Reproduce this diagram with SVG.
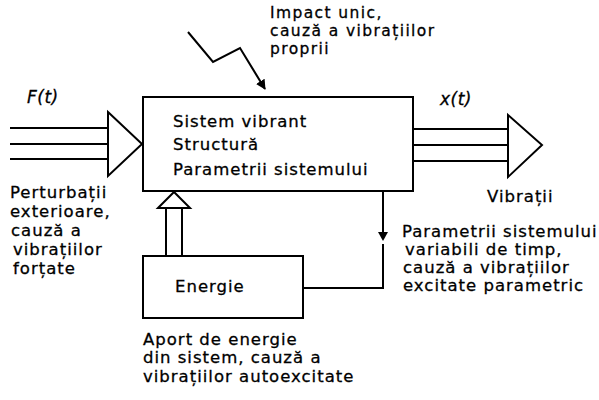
<svg xmlns="http://www.w3.org/2000/svg" width="599" height="400" viewBox="0 0 599 400">
<style>
text{font-family:"DejaVu Sans","Liberation Sans",sans-serif;font-size:16.5px;letter-spacing:1px;fill:#000;stroke:#000;stroke-width:0.3}
.it{font-style:italic;font-size:17px;letter-spacing:0.5px}
.sm{font-size:15.5px;letter-spacing:1.4px}
.ln{stroke:#000;stroke-width:2;fill:none}
.wh{stroke:#000;stroke-width:2;fill:#fff}
</style>
<defs>
<marker id="ah" viewBox="0 0 10 10" refX="9" refY="5" markerWidth="5" markerHeight="5" orient="auto" markerUnits="strokeWidth"><path d="M0,0 L10,5 L0,10 z" fill="#000"/></marker>
</defs>
<rect width="599" height="400" fill="#fff"/>
<g id="connectors">
<g id="input-arrow">
<line class="ln" x1="10" y1="128" x2="108" y2="128"/>
<line class="ln" x1="10" y1="144" x2="108" y2="144"/>
<line class="ln" x1="10" y1="159" x2="108" y2="159"/>
<polygon class="wh" points="108,112 142,144 108,176"/>
</g>
<g id="output-arrow">
<line class="ln" x1="413" y1="129" x2="508" y2="129"/>
<line class="ln" x1="413" y1="145" x2="508" y2="145"/>
<line class="ln" x1="413" y1="161" x2="508" y2="161"/>
<polygon class="wh" points="508,115 542,145 508,177"/>
</g>
<g id="energy-arrow">
<line class="ln" x1="166" y1="208" x2="166" y2="256"/>
<line class="ln" x1="182" y1="208" x2="182" y2="256"/>
<polygon class="wh" points="158,208 174,192 190,208"/>
</g>
<g id="feedback">
<polyline class="ln" points="383,191 383,234"/>
<polyline class="ln" points="383,244 383,288 303,288"/>
<polygon points="378,232 388,232 383,241" fill="#000"/>
</g>
<polyline id="impact" class="ln" points="188,32 213,62 240,48 265,89" marker-end="url(#ah)"/>
</g>
<g id="system">
<rect class="wh" x="143" y="97" width="270" height="94"/>
<text x="173" y="127">Sistem vibrant</text>
<text x="173" y="150">Structură</text>
<text x="173" y="175">Parametrii sistemului</text>
</g>
<g id="energy">
<rect class="wh" x="143" y="256" width="160" height="62"/>
<text x="175" y="292">Energie</text>
</g>
<g id="labels">
<text class="it" x="27" y="103">F(t)</text>
<text class="it" x="440" y="105">x(t)</text>
<text class="sm" x="270" y="18">Impact unic,</text>
<text class="sm" x="270" y="36">cauză a vibrațiilor</text>
<text class="sm" x="270" y="54">proprii</text>
<text x="10" y="198">Perturbații</text>
<text x="10" y="217">exterioare,</text>
<text x="11" y="236">cauză a</text>
<text x="13" y="255">vibrațiilor</text>
<text x="13" y="274">forțate</text>
<text x="487" y="202">Vibrații</text>
<text x="402" y="237">Parametrii sistemului</text>
<text x="405" y="255">variabili de timp,</text>
<text x="403" y="273">cauză a vibrațiilor</text>
<text x="403" y="291">excitate parametric</text>
<text x="143" y="345">Aport de energie</text>
<text x="143" y="363">din sistem, cauză a</text>
<text x="143" y="382">vibrațiilor autoexcitate</text>
</g>
</svg>
